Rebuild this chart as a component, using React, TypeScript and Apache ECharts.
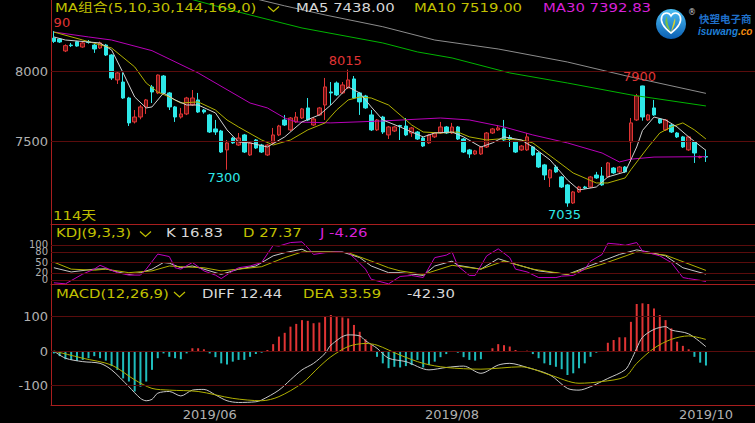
import React, { useEffect, useRef } from 'react';
import * as echarts from 'echarts';

// ---------- data ----------
const categories: string[] = Array.from({ length: 122 }, (_, i) => String(i));
const dateLabels: [number, string][] = [[27, '2019/06'], [69, '2019/08'], [113, '2019/10']];

// [open, close, low, high]
const candles: number[][] = [
  [8240, 8216, 8205, 8290], [8233, 8212, 8205, 8240], [8148, 8186, 8140, 8195], [8190, 8186, 8176, 8205],
  [8214, 8183, 8178, 8220], [8176, 8205, 8170, 8212], [8212, 8209, 8200, 8226], [8190, 8162, 8134, 8198],
  [8169, 8205, 8162, 8215], [8190, 8119, 8112, 8198], [8119, 7955, 7941, 8125], [7941, 7991, 7912, 8000],
  [7926, 7812, 7805, 7991], [7812, 7634, 7612, 7820], [7641, 7676, 7630, 7726], [7676, 7748, 7660, 7762],
  [7748, 7798, 7698, 7805], [7891, 7855, 7776, 7905], [7848, 7976, 7840, 7980], [7969, 7848, 7840, 7976],
  [7848, 7748, 7726, 7855], [7748, 7676, 7641, 7755], [7676, 7698, 7665, 7741], [7698, 7812, 7690, 7820],
  [7762, 7812, 7755, 7869], [7798, 7712, 7705, 7848], [7726, 7712, 7700, 7734], [7691, 7569, 7562, 7698],
  [7591, 7569, 7548, 7655], [7576, 7426, 7419, 7584], [7441, 7491, 7300, 7512], [7526, 7491, 7484, 7534],
  [7476, 7526, 7470, 7562], [7548, 7426, 7419, 7555], [7405, 7491, 7398, 7498], [7512, 7455, 7448, 7519],
  [7476, 7426, 7419, 7484], [7405, 7476, 7398, 7484], [7491, 7548, 7484, 7598], [7548, 7612, 7540, 7620],
  [7655, 7619, 7612, 7691], [7584, 7669, 7576, 7676], [7641, 7676, 7634, 7712], [7669, 7734, 7662, 7741],
  [7741, 7655, 7648, 7812], [7619, 7662, 7612, 7676], [7691, 7741, 7684, 7748], [7762, 7891, 7655, 7955],
  [7855, 7848, 7762, 7926], [7919, 7834, 7826, 7930], [7848, 7905, 7840, 7926], [7884, 7941, 7876, 8015],
  [7948, 7812, 7805, 7969], [7848, 7784, 7691, 7855], [7826, 7741, 7734, 7834], [7691, 7584, 7576, 7726],
  [7584, 7655, 7576, 7662], [7676, 7569, 7555, 7684], [7548, 7605, 7519, 7612], [7576, 7605, 7569, 7612],
  [7615, 7610, 7512, 7620], [7612, 7548, 7540, 7669], [7562, 7598, 7534, 7605], [7569, 7519, 7512, 7576],
  [7526, 7469, 7462, 7534], [7491, 7548, 7484, 7555], [7534, 7562, 7526, 7569], [7562, 7605, 7555, 7641],
  [7605, 7562, 7555, 7612], [7562, 7605, 7555, 7634], [7605, 7519, 7512, 7612], [7519, 7426, 7419, 7526],
  [7441, 7412, 7384, 7448], [7412, 7434, 7405, 7441], [7412, 7462, 7405, 7469], [7462, 7562, 7455, 7569],
  [7562, 7591, 7555, 7598], [7584, 7598, 7577, 7619], [7591, 7512, 7505, 7655], [7530, 7520, 7462, 7548],
  [7498, 7426, 7419, 7505], [7441, 7469, 7434, 7476], [7441, 7534, 7434, 7562], [7462, 7405, 7398, 7469],
  [7419, 7319, 7312, 7426], [7334, 7262, 7226, 7341], [7241, 7298, 7176, 7305], [7319, 7284, 7277, 7334],
  [7248, 7176, 7169, 7255], [7191, 7062, 7035, 7198], [7062, 7141, 7055, 7148], [7141, 7176, 7134, 7184],
  [7176, 7169, 7162, 7184], [7176, 7248, 7169, 7255], [7262, 7241, 7234, 7284], [7255, 7191, 7184, 7319],
  [7248, 7348, 7241, 7355], [7312, 7277, 7270, 7319], [7284, 7319, 7277, 7326], [7319, 7284, 7277, 7326],
  [7498, 7634, 7357, 7669], [7655, 7826, 7648, 7841], [7898, 7676, 7650, 7900], [7655, 7691, 7648, 7698],
  [7741, 7691, 7684, 7798], [7662, 7634, 7627, 7669], [7584, 7655, 7577, 7662], [7619, 7569, 7562, 7626],
  [7562, 7534, 7526, 7569], [7534, 7462, 7455, 7541], [7441, 7534, 7434, 7541], [7498, 7419, 7348, 7505],
  [7388, 7394, 7380, 7400], [7394, 7390, 7355, 7441],
];

const ma5: number[][] = [[0,8248],[2,8226],[8,8205],[10,8155],[12,7991],[14,7819],[16,7741],[17,7748],[19,7848],[21,7798],[23,7762],[25,7762],[28,7705],[30,7584],[32,7498],[34,7491],[37,7462],[40,7534],[43,7641],[46,7691],[48,7762],[50,7848],[51,7891],[53,7848],[55,7748],[57,7655],[60,7605],[62,7569],[64,7534],[66,7562],[69,7569],[71,7534],[74,7462],[76,7491],[78,7534],[81,7512],[83,7462],[86,7369],[89,7226],[91,7155],[94,7176],[96,7248],[99,7284],[100,7372],[101,7462],[102,7580],[104,7676],[106,7655],[108,7605],[110,7534],[113,7438]];
const ma10: number[][] = [[0,8283],[5,8226],[10,8169],[14,8034],[16,7919],[18,7855],[20,7819],[22,7776],[25,7784],[28,7726],[30,7655],[32,7605],[36,7512],[38,7476],[41,7512],[44,7584],[47,7634],[49,7726],[51,7798],[53,7819],[55,7812],[58,7762],[60,7691],[62,7619],[64,7569],[67,7562],[70,7569],[72,7534],[75,7512],[77,7519],[81,7512],[83,7491],[87,7369],[90,7276],[94,7205],[96,7205],[99,7241],[100,7300],[103,7462],[105,7562],[107,7605],[109,7634],[111,7584],[113,7519]];
const ma30: number[][] = [[0,8283],[6,8248],[10,8226],[17,8150],[25,7991],[34,7776],[37,7741],[40,7669],[42,7641],[48,7634],[57,7648],[67,7669],[72,7655],[78,7605],[83,7548],[89,7491],[95,7419],[98,7355],[100,7375],[104,7390],[113,7393]];
const ma144: number[][] = [[20,8560],[28,8470],[34,8405],[43,8312],[57,8205],[63,8141],[69,8098],[79,7991],[89,7919],[100,7834],[113,7755]];
const ma169: number[][] = [[35,8520],[40,8470],[47,8405],[57,8321],[66,8226],[77,8162],[89,8069],[100,7962],[113,7845]];

const kdjK: number[][] = [[0,35],[3,23],[7,31],[9,32],[11,23],[13,16],[15,21],[17,31],[19,50],[20,48],[22,35],[24,40],[26,31],[29,16],[32,31],[35,40],[38,69],[40,78],[43,88],[44,80],[48,80],[50,80],[53,64],[55,40],[58,21],[60,21],[64,13],[66,40],[69,54],[70,42],[74,31],[77,61],[80,45],[84,26],[89,16],[92,35],[95,54],[98,73],[101,86],[103,80],[106,69],[109,35],[113,16.83]];
const kdjD: number[][] = [[0,51],[3,31],[7,28],[9,31],[13,21],[17,26],[20,40],[22,38],[26,35],[29,26],[32,31],[36,38],[40,64],[43,80],[48,80],[51,78],[55,54],[58,35],[60,26],[64,16],[69,42],[74,31],[78,54],[83,31],[89,16],[95,45],[101,80],[106,71],[113,27.37]];
const kdjJ: number[][] = [[0,-8],[2,-11],[5,17],[7,31],[8,42],[9,35],[11,21],[13,14],[15,14],[16,31],[18,74],[20,67],[21,35],[22,31],[24,50],[26,26],[28,14],[29,4],[31,26],[32,35],[34,40],[36,50],[38,99],[39,97],[41,107],[43,109],[44,92],[45,73],[47,78],[49,80],[51,78],[52,64],[54,31],[55,2],[58,-11],[60,10],[62,13],[64,7],[66,64],[68,71],[69,80],[70,40],[72,13],[73,13],[75,69],[77,89],[79,64],[80,31],[82,23],[84,7],[87,7],[88,11],[90,13],[92,31],[93,54],[95,73],[96,105],[98,102],[99,99],[101,107],[102,83],[105,69],[107,50],[109,7],[110,4],[112,-1],[113,-4.26]];

const macdHist: number[] = [-7,-15,-24,-26,-29,-26,-21,-15,-21,-28,-44,-55,-80,-89,-118,-104,-89,-55,-21,-7,-17,-21,-24,-7,8,8,5,-7,-18,-36,-39,-31,-26,-26,-17,-9,-5,3,20,42,53,71,79,90,88,81,83,102,105,100,98,95,76,56,34,17,-17,-36,-50,-46,-48,-44,-41,-26,-48,-41,-31,-18,-9,-2,-5,-18,-26,-28,-24,-2,8,20,17,13,3,-1,1,-9,-21,-36,-41,-46,-53,-70,-65,-50,-36,-17,-5,-3,24,32,40,40,85,137,139,137,124,105,90,66,27,15,5,-17,-34,-42.3];
const diff: number[][] = [[0,0],[2,-21],[5,-31],[8,-36],[10,-55],[13,-104],[15,-138],[16,-145],[17,-141],[18,-123],[20,-118],[22,-131],[24,-114],[26,-112],[28,-128],[30,-145],[32,-150],[35,-148],[36,-143],[39,-114],[41,-84],[43,-55],[45,-36],[47,-7],[48,17],[51,47],[53,44],[54,30],[56,8],[58,-21],[61,-31],[65,-55],[68,-48],[71,-44],[74,-65],[77,-41],[79,-36],[82,-48],[86,-70],[89,-109],[91,-114],[93,-104],[96,-80],[99,-55],[100,-28],[101,8],[102,40],[104,63],[106,71],[107,61],[110,50],[113,12.44]];
const dea: number[][] = [[0,0],[5,-21],[10,-41],[14,-84],[17,-109],[20,-114],[25,-118],[31,-138],[36,-145],[39,-133],[43,-94],[46,-46],[48,-17],[51,13],[54,22],[56,17],[60,-12],[64,-36],[68,-48],[74,-53],[81,-46],[86,-70],[91,-94],[95,-89],[99,-75],[101,-36],[104,8],[107,34],[110,44],[113,33.59]];

// extreme price labels: [index, price, text, kind]
const extremes: [number, number, string, string][] = [
  [0, 8290, '90', 'high'], [51, 8015, '8015', 'high'], [102, 7900, '7900', 'high'],
  [30, 7300, '7300', 'low'], [89, 7035, '7035', 'low'],
];

// tick labels per axis
const priceTicks = [7500, 8000];
const kdjTicksA = [0, 50, 100];
const kdjTicksB = [20, 80];
const macdTicks = [-100, 0, 100];

// ---------- styles ----------
const BG = '#000000';
const SEP = '#a81e1e';
const GRIDC = '#5a0c0c';
const RED = '#e03434';
const RED_FILL = '#6a1414';
const CYAN = '#2ee8e8';
const CYAN_BAR = '#1fbcbc';
const YEL = '#c0c000';
const MAG = '#d820d8';
const WHT = '#d8d8d8';
const AXT = '#b0b0b0';
const FONT = '"DejaVu Sans", "Noto Sans CJK SC", sans-serif';

let registered = false;
function registerShapes() {
  if (registered) return;
  registered = true;
  echarts.graphic.registerShape('logoHeart', echarts.graphic.extendPath(
    'M671 33 C663 27 660 21 662 16 C664 12 669 12 671 16 C673 12 678 12 680 16 C682 21 679 27 671 33 Z', {}) as any);
  echarts.graphic.registerShape('logoLeaf', echarts.graphic.extendPath(
    'M671 32 C665 27 664 21 667 16 C667 23 669 28 671 32 Z', {}) as any);
  echarts.graphic.registerShape('logoLeaf2', echarts.graphic.extendPath(
    'M671 32 C674 27 676 23 675 18 C673 23 672 28 671 32 Z', {}) as any);
}

const SX = 1.24;
function txt(x: number, y: number, text: string, fill: string, size = 12) {
  return {
    type: 'text', x, y, scaleX: SX, z: 100,
    style: { text, fill, font: `${size}px ${FONT}`, verticalAlign: 'middle', align: 'left' },
  };
}
function chevron(x: number, y: number, color: string) {
  return {
    type: 'polyline', z: 100,
    shape: { points: [[x, y - 2.5], [x + 5.5, y + 2.5], [x + 11, y - 2.5]] },
    style: { stroke: color, lineWidth: 1.2, fill: 'none' },
  };
}

function line(name: string, data: number[][], color: string, gi: number, smooth: number | boolean = false) {
  return {
    type: 'line', name, data, xAxisIndex: gi, yAxisIndex: gi,
    showSymbol: false, symbol: 'none', connectNulls: true, smooth,
    lineStyle: { color, width: 1 }, silent: true, z: 3,
  };
}

export default function App() {
  const ref = useRef<HTMLDivElement>(null);
  useEffect(() => {
    registerShapes();
    const chart = echarts.init(ref.current!, null, { renderer: 'svg' });
    const grids = [
      { left: 51, right: 0, top: 0, height: 224 },
      { left: 51, right: 0, top: 224, height: 60 },
      { left: 51, right: 0, top: 284, height: 121 },
    ];
    const labelSet = new Set(dateLabels.map(d => d[0]));
    const labelMap = new Map(dateLabels);

    const yAxisDef = (gridIndex: number, min: number, max: number, ticks: number[], fontSize: number, showLine = true) => ({
      type: 'value', gridIndex, min, max, position: 'left',
      axisLine: { show: showLine, lineStyle: { color: SEP, width: 1 } },
      axisTick: { show: false },
      splitLine: { show: false },
      axisLabel: {
        show: true, color: AXT, fontSize, fontFamily: FONT, margin: 3,
        customValues: ticks, hideOverlap: false,
        formatter: (v: number) => String(v),
      },
    });

    const option: any = {
      backgroundColor: BG,
      animation: false,
      grid: grids,
      xAxis: grids.map((_, i) => ({
        type: 'category', gridIndex: i, data: categories, boundaryGap: true,
        axisLine: { show: true, onZero: false, lineStyle: { color: SEP, width: 1 } },
        axisTick: { show: false },
        splitLine: { show: false },
        axisLabel: i === 2 ? {
          show: true, color: AXT, fontSize: 13, fontFamily: FONT, margin: 3,
          interval: (idx: number) => labelSet.has(idx),
          formatter: (_v: string, idx: number) => labelMap.get(idx) || '',
        } : { show: false },
      })),
      yAxis: [
        yAxisDef(0, 6911.9, 8511.9, priceTicks, 13),
        yAxisDef(1, -11.43, 160, kdjTicksA, 10),
        yAxisDef(2, -157.4, 195.3, macdTicks, 13),
        yAxisDef(1, -11.43, 160, kdjTicksB, 10, false),
      ],
      series: [
        {
          type: 'candlestick', name: 'K', data: candles, xAxisIndex: 0, yAxisIndex: 0,
          barWidth: 4, z: 2,
          itemStyle: { color: RED_FILL, color0: CYAN, borderColor: RED, borderColor0: CYAN, borderWidth: 1 },
          markLine: {
            silent: true, symbol: ['none', 'none'], label: { show: false }, animation: false,
            lineStyle: { color: GRIDC, width: 1, type: 'solid' },
            data: [{ yAxis: 8000 }, { yAxis: 7500 }],
          },
          markPoint: {
            symbol: 'circle', symbolSize: 1, animation: false, silent: true,
            itemStyle: { color: 'rgba(0,0,0,0)' },
            data: extremes.map(([i, p, t, kind]) => ({
              coord: [String(i), p], value: p,
              label: {
                show: true, formatter: t, fontSize: 13, fontFamily: FONT,
                color: kind === 'high' ? RED : CYAN,
                offset: i === 0 ? [8, -8.6] : (kind === 'high' ? [-3, -8.8] : [-3, 7.8]),
              },
            })),
          },
        },
        line('MA169', ma169, '#8c8c8c', 0),
        line('MA144', ma144, '#00b400', 0),
        line('MA30', ma30, '#b800b8', 0),
        line('MA10', ma10, '#b0b000', 0),
        line('MA5', ma5, '#d0d0d0', 0),
        {
          ...line('K', kdjK, '#c8c8c8', 1),
          markLine: {
            silent: true, symbol: ['none', 'none'], label: { show: false }, animation: false,
            lineStyle: { color: GRIDC, width: 1, type: 'solid' },
            data: [{ yAxis: 0 }, { yAxis: 20 }, { yAxis: 50 }, { yAxis: 80 }, { yAxis: 100 }],
          },
        },
        line('D', kdjD, '#b0b000', 1),
        line('J', kdjJ, '#c000c0', 1),
        {
          type: 'bar', name: 'MACD', xAxisIndex: 2, yAxisIndex: 2, barWidth: 2, z: 2, silent: true,
          data: macdHist.map(v => ({ value: v, itemStyle: { color: v >= 0 ? RED : CYAN_BAR } })),
          markLine: {
            silent: true, symbol: ['none', 'none'], label: { show: false }, animation: false,
            lineStyle: { color: GRIDC, width: 1, type: 'solid' },
            data: [{ yAxis: 100 }, { yAxis: 0 }, { yAxis: -100 }],
          },
        },
        line('DIFF', diff, '#c8c8c8', 2, 0.3),
        line('DEA', dea, '#b0b000', 2, 0.3),
      ],
      graphic: [
        txt(55, 8, 'MA组合(5,10,30,144,169,0)', YEL),
        chevron(268, 9, YEL),
        txt(296, 8, 'MA5 7438.00', WHT),
        txt(414, 8, 'MA10 7519.00', YEL),
        txt(543, 8, 'MA30 7392.83', MAG),
        txt(53, 216, '114天', YEL),
        txt(56, 233, 'KDJ(9,3,3)', YEL),
        chevron(140, 234, YEL),
        txt(166, 233, 'K 16.83', WHT),
        txt(243, 233, 'D 27.37', YEL),
        txt(320, 233, 'J -4.26', MAG),
        txt(56, 293.5, 'MACD(12,26,9)', YEL),
        chevron(174, 294.5, YEL),
        txt(202, 293.5, 'DIFF 12.44', WHT),
        txt(303, 293.5, 'DEA 33.59', YEL),
        txt(407, 293.5, '-42.30', WHT),
        // logo
        {
          type: 'circle', z: 100, shape: { cx: 671, cy: 24, r: 15 },
          style: {
            fill: new echarts.graphic.LinearGradient(0, 0, 0, 1, [
              { offset: 0, color: '#4cc0f4' }, { offset: 1, color: '#0b5fb4' },
            ]),
          },
        },
        { type: 'logoHeart', z: 101, style: { stroke: '#ffffff', lineWidth: 1.6, fill: 'none' } },
        { type: 'logoLeaf', z: 102, style: { fill: '#78c043' } },
        { type: 'logoLeaf2', z: 102, style: { fill: '#d8d030' } },
        { type: 'text', z: 100, x: 688, y: 12, style: { text: '®', fill: '#cfcfcf', font: `8px ${FONT}`, verticalAlign: 'middle' } },
        { type: 'text', z: 100, x: 699, y: 18, style: { text: '快塑电子商', fill: '#1f6fc8', font: 'bold 10.5px "Noto Sans CJK SC"', verticalAlign: 'middle' } },
        {
          type: 'text', z: 100, x: 698, y: 31.5,
          style: {
            text: '{a|isuwang}{b|.co}', verticalAlign: 'middle',
            rich: {
              a: { fill: '#1f7fd6', font: 'italic bold 10px "Liberation Sans"' },
              b: { fill: '#f08a10', font: 'italic bold 10px "Liberation Sans"' },
            },
          },
        },
      ],
    };
    chart.setOption(option);
    return () => chart.dispose();
  }, []);
  return <div ref={ref} style={{ position: 'absolute', left: 0, top: 0, width: 755, height: 423, background: '#000' }} />;
}
